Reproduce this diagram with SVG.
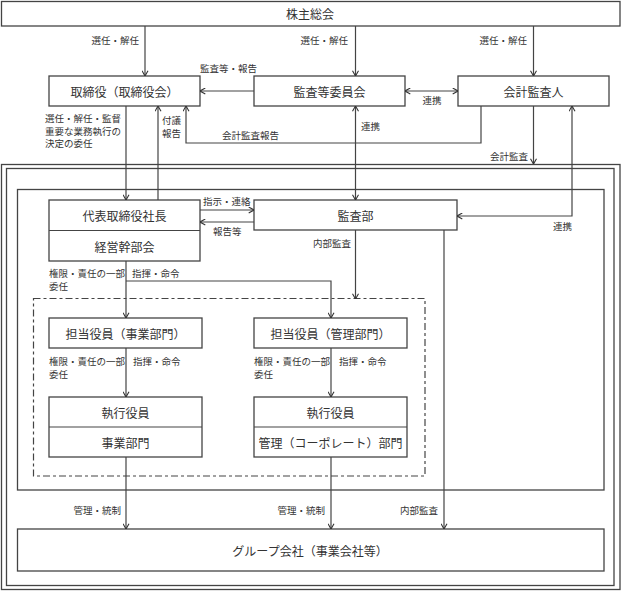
<svg xmlns="http://www.w3.org/2000/svg" width="621" height="591" viewBox="0 0 621 591">
<defs>
<marker id="ah" viewBox="0 0 6 7" refX="5.6" refY="3.5" markerWidth="6" markerHeight="7" markerUnits="userSpaceOnUse" orient="auto-start-reverse">
<path d="M0.3,0.5 L5.6,3.5 L0.3,6.5" fill="none" stroke="#333" stroke-width="1.1"/>
</marker>
<style>
.box{fill:#fff;stroke:#444;stroke-width:1.3}
.frame{fill:none;stroke:#444;stroke-width:1.3}
.dash{fill:none;stroke:#444;stroke-width:1.2;stroke-dasharray:7 3 3 3}
.div{stroke:#444;stroke-width:1.1}
.t{font-family:"Noto Sans CJK JP","Noto Sans CJK SC",sans-serif;font-size:12px;fill:#333;text-anchor:middle;dominant-baseline:central}
.s{font-family:"Noto Sans CJK JP","Noto Sans CJK SC",sans-serif;font-size:9.5px;fill:#333;dominant-baseline:central}
.e{text-anchor:end}
.m{text-anchor:middle}
.c path{fill:none;stroke:#444;stroke-width:1.2}
.a{marker-end:url(#ah)}
.b{marker-start:url(#ah);marker-end:url(#ah)}
</style>
</defs>
<rect width="621" height="591" fill="#fff"/>

<g id="frame-outer">
<rect class="frame" x="1.5" y="164.5" width="618.5" height="425"/>
<rect class="frame" x="6.5" y="168.5" width="607.5" height="417"/>
</g>
<g id="frame-middle">
<rect class="frame" x="17.5" y="189.5" width="586.5" height="300.5"/>
</g>
<g id="frame-dashed">
<rect class="dash" x="33.5" y="298.5" width="391.5" height="177.5"/>
</g>

<g id="shareholders">
<rect class="box" x="1.5" y="1.5" width="618.5" height="24.5"/>
<text class="t" x="310" y="13.5">株主総会</text>
</g>
<g id="board">
<rect class="box" x="49" y="76" width="151" height="30"/>
<text class="t" x="124.5" y="91">取締役（取締役会）</text>
</g>
<g id="audit-committee">
<rect class="box" x="254" y="76" width="151" height="30"/>
<text class="t" x="329.5" y="91">監査等委員会</text>
</g>
<g id="accounting-auditor">
<rect class="box" x="458" y="76" width="151" height="30"/>
<text class="t" x="533.5" y="91">会計監査人</text>
</g>
<g id="president">
<rect class="box" x="49" y="200" width="151" height="61"/>
<line class="div" x1="49" y1="230.5" x2="200" y2="230.5"/>
<text class="t" x="124.5" y="215.5">代表取締役社長</text>
<text class="t" x="124.5" y="246">経営幹部会</text>
</g>
<g id="audit-dept">
<rect class="box" x="254" y="200" width="203" height="30"/>
<text class="t" x="355.5" y="215">監査部</text>
</g>
<g id="officer-business">
<rect class="box" x="49" y="318" width="153" height="30"/>
<text class="t" x="125.5" y="333">担当役員（事業部門）</text>
</g>
<g id="officer-admin">
<rect class="box" x="254" y="318" width="153" height="30"/>
<text class="t" x="330.5" y="333">担当役員（管理部門）</text>
</g>
<g id="exec-business">
<rect class="box" x="49" y="397" width="153" height="60"/>
<line class="div" x1="49" y1="427" x2="202" y2="427"/>
<text class="t" x="125.5" y="412">執行役員</text>
<text class="t" x="125.5" y="442">事業部門</text>
</g>
<g id="exec-admin">
<rect class="box" x="254" y="397" width="153" height="60"/>
<line class="div" x1="254" y1="427" x2="407" y2="427"/>
<text class="t" x="330.5" y="412">執行役員</text>
<text class="t" x="330.5" y="442">管理（コーポレート）部門</text>
</g>
<g id="group-companies">
<rect class="box" x="17.5" y="529" width="586.5" height="42"/>
<text class="t" x="310" y="550">グループ会社（事業会社等）</text>
</g>

<g id="connectors" class="c">
<path class="a" d="M145,26 V76"/>
<path class="a" d="M355.5,26 V76"/>
<path class="a" d="M533.5,26 V76"/>
<path class="a" d="M254,91 H200"/>
<path class="b" d="M405,91 H458"/>
<path class="a" d="M126,106 V200"/>
<path class="a" d="M158,200 V106"/>
<path class="a" d="M481,106 V143 H186 V106"/>
<path class="b" d="M355.5,106 V200"/>
<path class="a" d="M533.5,106 V164"/>
<path class="b" d="M572,106 V216 H457"/>
<path class="a" d="M200,210 H254"/>
<path class="a" d="M254,222 H200"/>
<path class="a" d="M355.5,230 V299"/>
<path class="a" d="M444,230 V529"/>
<path class="a" d="M126,261 V318"/>
<path class="a" d="M126,281 H331 V318"/>
<path class="a" d="M126,348 V397"/>
<path class="a" d="M331,348 V397"/>
<path class="a" d="M126,457 V529"/>
<path class="a" d="M331,457 V529"/>
</g>

<g id="labels">
<text class="s e" x="139" y="40">選任・解任</text>
<text class="s e" x="348" y="40">選任・解任</text>
<text class="s e" x="527" y="40">選任・解任</text>
<text class="s" x="200" y="68">監査等・報告</text>
<text class="s m" x="432" y="100">連携</text>
<text class="s" x="45" y="118">選任・解任・監督</text>
<text class="s" x="45" y="130.5">重要な業務執行の</text>
<text class="s" x="45" y="143">決定の委任</text>
<text class="s" x="162" y="120">付議</text>
<text class="s" x="162" y="133">報告</text>
<text class="s" x="222" y="135">会計監査報告</text>
<text class="s" x="361" y="126">連携</text>
<text class="s e" x="528" y="156">会計監査</text>
<text class="s" x="553" y="226">連携</text>
<text class="s" x="203" y="201">指示・連絡</text>
<text class="s" x="213" y="231">報告等</text>
<text class="s" x="313" y="243">内部監査</text>
<text class="s" x="49" y="273">権限・責任の一部</text>
<text class="s" x="49" y="286">委任</text>
<text class="s" x="132" y="273">指揮・命令</text>
<text class="s" x="49" y="361">権限・責任の一部</text>
<text class="s" x="49" y="374">委任</text>
<text class="s" x="133" y="361">指揮・命令</text>
<text class="s" x="254" y="361">権限・責任の一部</text>
<text class="s" x="254" y="374">委任</text>
<text class="s" x="339" y="361">指揮・命令</text>
<text class="s e" x="121" y="510">管理・統制</text>
<text class="s e" x="325" y="510">管理・統制</text>
<text class="s e" x="438" y="510">内部監査</text>
</g>
</svg>
